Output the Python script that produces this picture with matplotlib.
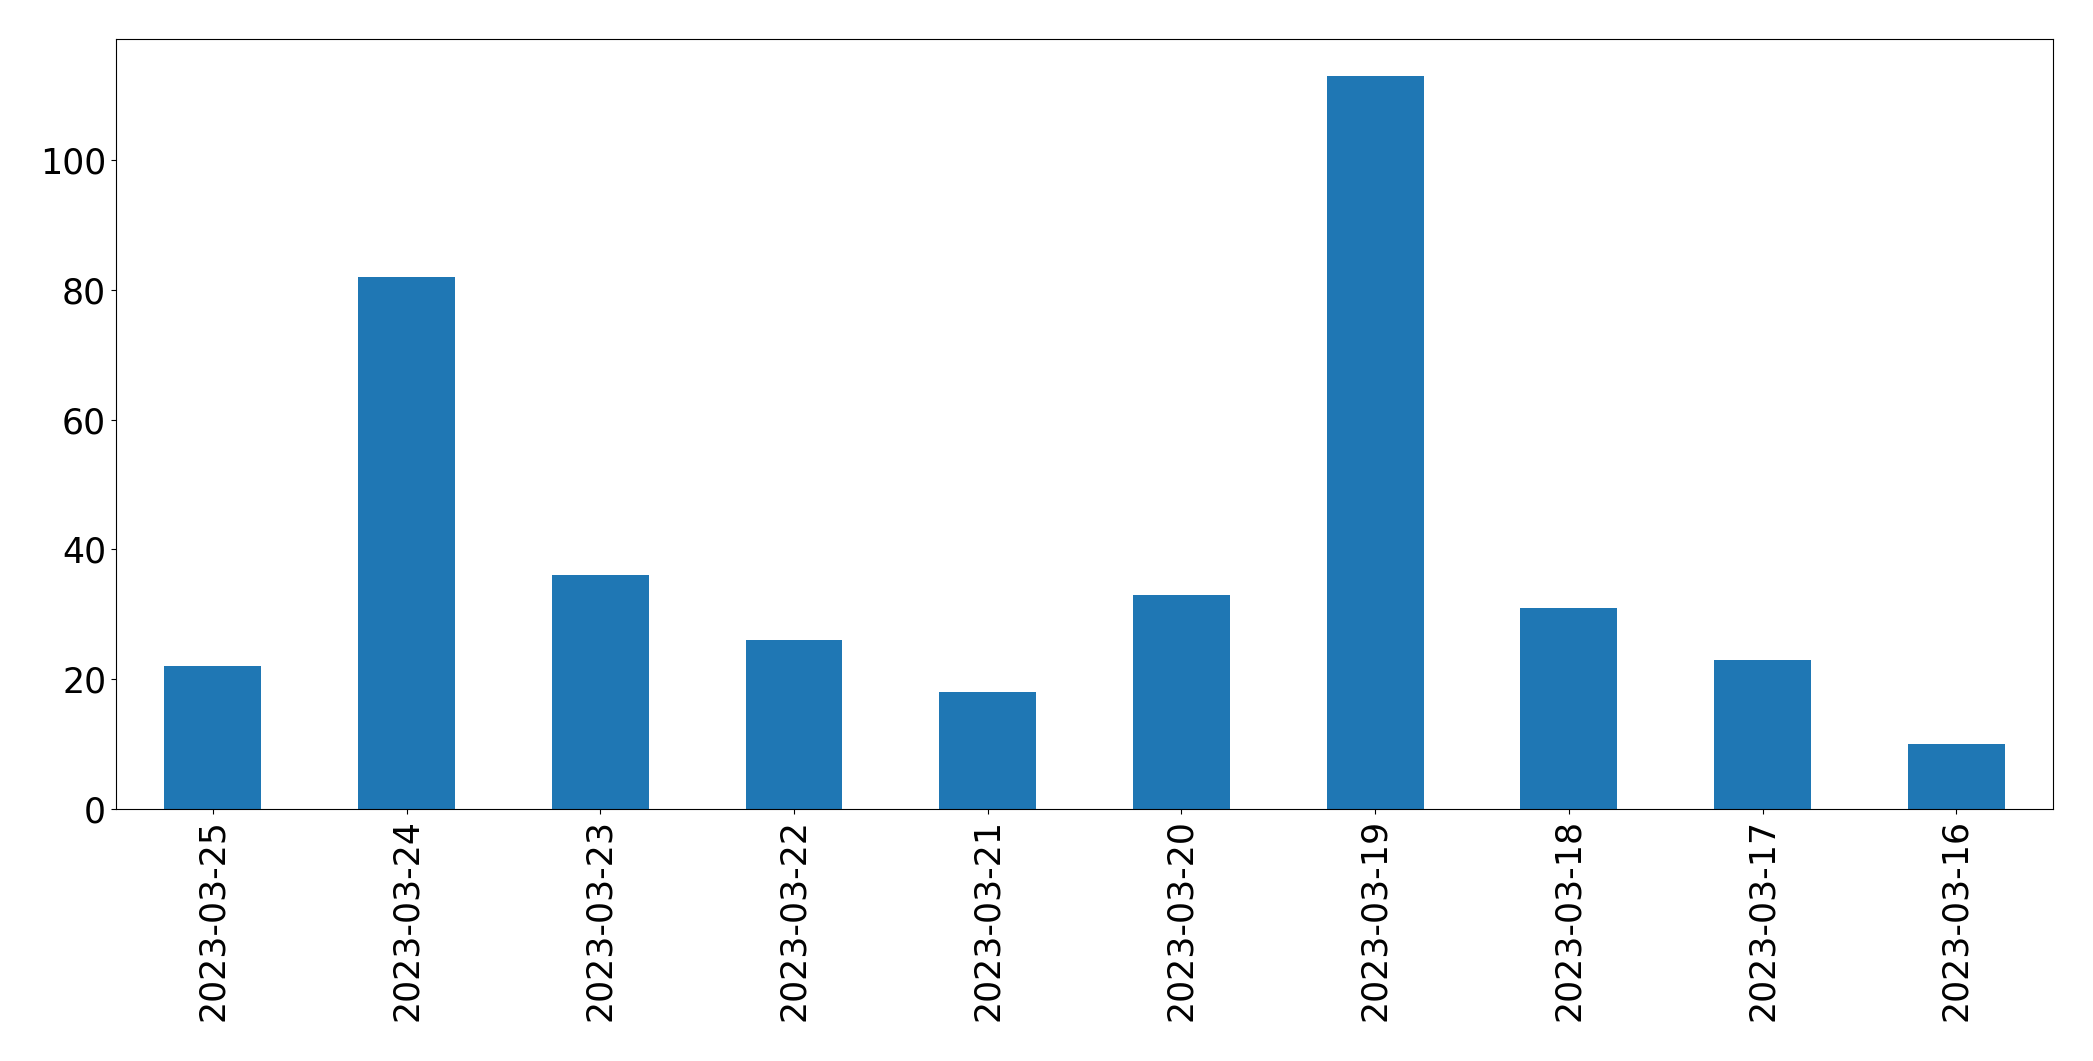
import matplotlib
matplotlib.use("Agg")
import matplotlib.pyplot as plt

dates = ["2023-03-25", "2023-03-24", "2023-03-23", "2023-03-22", "2023-03-21",
         "2023-03-20", "2023-03-19", "2023-03-18", "2023-03-17", "2023-03-16"]
counts = [22, 82, 36, 26, 18, 33, 113, 31, 23, 10]

fig = plt.figure(figsize=(20.93, 10.61), dpi=100)
ax = fig.add_axes([0.0554, 0.2375, 0.9256, 0.7257])
x = list(range(len(dates)))
ax.bar(x, counts, width=0.5, color="#1f77b4")
ax.set_xlim(-0.5, len(dates) - 0.5)
ax.set_xticks(x)
ax.set_xticklabels(dates, rotation=90)
ax.tick_params(labelsize=25)
fig.savefig("out.png", dpi=100)
